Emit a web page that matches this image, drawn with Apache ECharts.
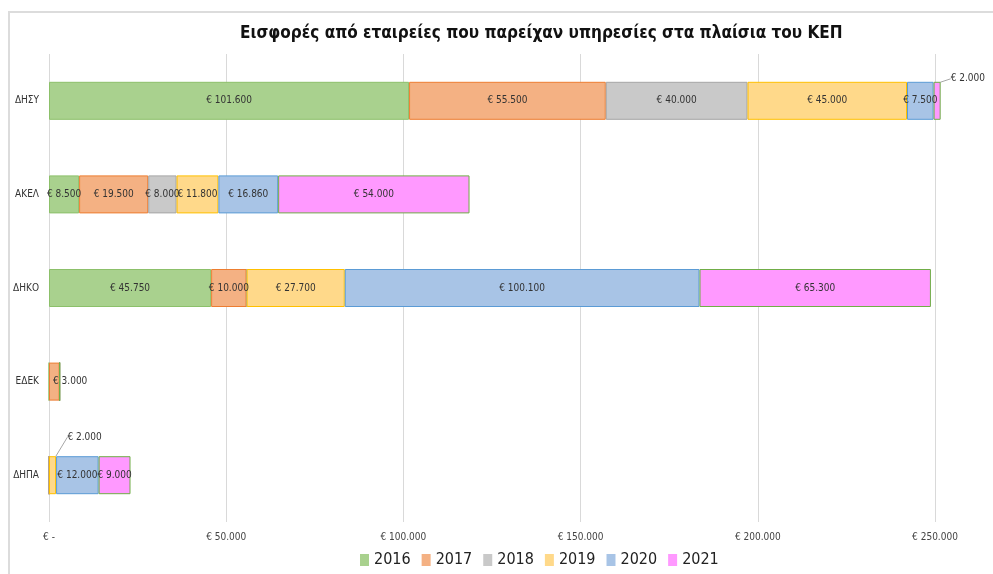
<!DOCTYPE html>
<html>
<head>
<meta charset="utf-8">
<script src="https://cdn.jsdelivr.net/npm/echarts@6/dist/echarts.min.js"></script>
<style>
  html, body { margin: 0; padding: 0; background: #fff; }
  #frame { position: absolute; left: 8px; top: 11px; width: 1000px; height: 600px; border: 2px solid #dcdcdc; }
  #main { position: absolute; left: 0; top: 0; width: 993px; height: 574px; }
</style>
</head>
<body>
<div id="frame"></div>
<div id="main"></div>
<script>
var parties = ['ΔΗΣΥ', 'ΑΚΕΛ', 'ΔΗΚΟ', 'ΕΔΕΚ', 'ΔΗΠΑ'];
var years = ['2016', '2017', '2018', '2019', '2020', '2021'];

var y2016 = [101600, 8500, 45750, 0, 0];
var y2017 = [55500, 19500, 10000, 3000, 0];
var y2018 = [40000, 8000, 0, 0, 0];
var y2019 = [45000, 11800, 27700, 0, 2000];
var y2020 = [7500, 16860, 100100, 0, 12000];
var y2021 = [2000, 54000, 65300, 0, 9000];

var values = [y2016, y2017, y2018, y2019, y2020, y2021];
var fills = ['#a9d18e', '#f4b183', '#c9c9c9', '#ffd98a', '#a8c4e6', '#ff99ff'];
var borders = ['#8cc06a', '#ed7d31', '#a5a5a5', '#ffc000', '#5b9bd5', '#70ad47'];

var font = '"DejaVu Sans Condensed", "Liberation Sans Narrow", sans-serif';

function euro(v) {
  if (!v) return '€ -';
  return '€ ' + String(v).replace(/\B(?=(\d{3})+(?!\d))/g, '.');
}

var chart = echarts.init(document.getElementById('main'));

var series = years.map(function (y, i) {
  return {
    name: y,
    type: 'bar',
    stack: 'total',
    barWidth: 38,
    clip: false,
    itemStyle: { color: fills[i], borderColor: borders[i], borderWidth: 1 },
    label: {
      show: true,
      position: 'inside',
      color: '#333',
      fontSize: 10,
      fontFamily: font,
      formatter: function (p) { return p.value ? euro(p.value) : ''; }
    },
    data: values[i].slice()
  };
});

// small ΕΔΕΚ 2017 label starts at the bar's left edge
series[1].data[3] = { value: y2017[3], label: { position: 'insideLeft', offset: [-1, 0] } };

// tiny 2021 segment of ΔΗΣΥ: label outside, up and right, with a leader line
series[5].data[0] = { value: y2021[0], label: { position: 'right' } };
series[5].labelLine = { show: true, lineStyle: { color: '#a6a6a6', width: 1 } };
series[5].labelLayout = function (p) {
  if (p.dataIndex === 0) return { dx: 5, dy: -22 };
  return {};
};

// tiny 2019 segment of ΔΗΠΑ
series[3].data[4] = { value: y2019[4], label: { position: 'top' } };
series[3].labelLine = { show: true, lineStyle: { color: '#a6a6a6', width: 1 } };
series[3].labelLayout = function (p) {
  if (p.dataIndex === 4) return { dx: 32, dy: -9 };
  return {};
};

chart.setOption({
  animation: false,
  title: {
    text: 'Εισφορές από εταιρείες που παρείχαν υπηρεσίες στα πλαίσια του ΚΕΠ',
    left: 235,
    top: 20,
    textStyle: { fontFamily: font, fontSize: 17, fontWeight: 'bold', color: '#111' }
  },
  legend: {
    data: years,
    bottom: 1,
    left: 355,
    itemWidth: 9,
    itemHeight: 12,
    itemGap: 11,
    icon: 'rect',
    itemStyle: { borderWidth: 0 },
    textStyle: { fontFamily: font, fontSize: 16, color: '#222' }
  },
  grid: { left: 49, right: 58, top: 54, bottom: 52, containLabel: false },
  xAxis: {
    type: 'value',
    min: 0,
    max: 250000,
    interval: 50000,
    axisLine: { show: false },
    axisTick: { show: false },
    splitLine: { lineStyle: { color: '#d9d9d9' } },
    axisLabel: {
      formatter: euro,
      fontFamily: font,
      fontSize: 10,
      color: '#444',
      margin: 10
    }
  },
  yAxis: {
    type: 'category',
    data: parties,
    inverse: true,
    axisLine: { show: false },
    axisTick: { show: false },
    axisLabel: { fontFamily: font, fontSize: 10, color: '#333', margin: 10 }
  },
  series: series
});
</script>
</body>
</html>
